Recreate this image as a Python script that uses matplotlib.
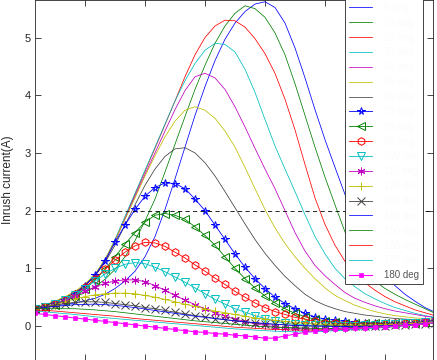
"""Inrush current vs. sample for switching angles 0..180 deg."""
import matplotlib
matplotlib.use("Agg")
import matplotlib.pyplot as plt  # noqa: E402
import numpy as np  # noqa: E402

plt.rcParams["font.family"] = ["Liberation Sans", "DejaVu Sans"]

# sample index grids (fine for the big curves / marker series, coarse for the low lines)
X_FINE = np.arange(5, 206, 5)
X_COARSE = np.arange(5, 206, 10)
ANGLES = list(range(0, 181, 10))

# plain lines, 0..60 deg
I_000 = [0.30, 0.32, 0.35, 0.37, 0.40, 0.44, 0.48, 0.55, 0.65, 0.78, 0.95, 1.20, 1.55, 2.02, 2.55, 3.10, 3.65, 4.15, 4.60, 4.97,
         5.25, 5.45, 5.58, 5.62, 5.52, 5.25, 4.82, 4.30, 3.75, 3.23, 2.75, 2.28, 1.85, 1.47, 1.15, 0.90, 0.70, 0.55, 0.43, 0.32, 0.24]
I_010 = [0.30, 0.34, 0.38, 0.44, 0.50, 0.58, 0.68, 0.81, 0.98, 1.20, 1.48, 1.82, 2.20, 2.67, 3.15, 3.63, 4.10, 4.52, 4.90, 5.20,
         5.42, 5.55, 5.50, 5.35, 5.08, 4.70, 4.20, 3.65, 3.10, 2.58, 2.10, 1.63, 1.25, 0.98, 0.78, 0.65, 0.55, 0.46, 0.38, 0.30, 0.22]
I_020 = [0.31, 0.36, 0.42, 0.49, 0.58, 0.70, 0.87, 1.12, 1.48, 1.87, 2.28, 2.68, 3.08, 3.49, 3.90, 4.32, 4.70, 5.00, 5.20, 5.30,
         5.29, 5.18, 4.98, 4.72, 4.38, 3.93, 3.40, 2.80, 2.22, 1.76, 1.40, 1.12, 0.90, 0.75, 0.62, 0.51, 0.42, 0.35, 0.28, 0.23, 0.18]
I_030 = [0.31, 0.36, 0.42, 0.49, 0.58, 0.71, 0.88, 1.15, 1.50, 1.90, 2.30, 2.70, 3.10, 3.50, 3.90, 4.25, 4.55, 4.78, 4.90, 4.88,
         4.75, 4.45, 4.05, 3.58, 3.12, 2.72, 2.33, 1.93, 1.55, 1.25, 1.00, 0.82, 0.68, 0.56, 0.47, 0.39, 0.32, 0.27, 0.22, 0.18, 0.15]
I_040 = [0.31, 0.36, 0.42, 0.49, 0.58, 0.71, 0.87, 1.13, 1.47, 1.86, 2.25, 2.63, 3.00, 3.38, 3.75, 4.08, 4.32, 4.38, 4.30, 4.10,
         3.80, 3.45, 3.08, 2.72, 2.38, 2.00, 1.62, 1.30, 1.05, 0.87, 0.72, 0.58, 0.48, 0.41, 0.35, 0.30, 0.26, 0.23, 0.20, 0.17, 0.15]
I_050 = [0.32, 0.37, 0.43, 0.51, 0.60, 0.73, 0.90, 1.16, 1.48, 1.85, 2.22, 2.60, 2.95, 3.28, 3.55, 3.74, 3.80, 3.74, 3.60, 3.38,
         3.10, 2.75, 2.38, 2.02, 1.70, 1.43, 1.20, 1.00, 0.82, 0.66, 0.53, 0.44, 0.36, 0.30, 0.25, 0.21, 0.18, 0.16, 0.14, 0.13, 0.12]
I_060 = [0.31, 0.36, 0.42, 0.49, 0.58, 0.70, 0.87, 1.10, 1.40, 1.75, 2.10, 2.44, 2.72, 2.94, 3.07, 3.09, 3.00, 2.83, 2.60, 2.33,
         2.05, 1.77, 1.50, 1.26, 1.05, 0.86, 0.70, 0.55, 0.44, 0.36, 0.30, 0.25, 0.22, 0.19, 0.17, 0.15, 0.13, 0.12, 0.11, 0.10, 0.10]

# marker series, 70..130 deg
I_070 = [0.30, 0.33, 0.38, 0.45, 0.55, 0.70, 0.88, 1.13, 1.45, 1.75, 2.02, 2.25, 2.40, 2.48, 2.47, 2.38, 2.20, 2.00, 1.75, 1.50,
         1.25, 1.02, 0.82, 0.65, 0.50, 0.39, 0.30, 0.22, 0.16, 0.12, 0.10, 0.08, 0.07, 0.06, 0.05, 0.05, 0.05, 0.05, 0.06, 0.07, 0.08]
I_080 = [0.30, 0.33, 0.37, 0.43, 0.52, 0.64, 0.80, 0.98, 1.20, 1.42, 1.62, 1.80, 1.92, 1.95, 1.92, 1.85, 1.72, 1.57, 1.40, 1.20,
         1.00, 0.82, 0.66, 0.52, 0.40, 0.30, 0.22, 0.16, 0.12, 0.09, 0.07, 0.06, 0.05, 0.05, 0.05, 0.05, 0.05, 0.05, 0.06, 0.07, 0.08]
I_090 = [0.30, 0.33, 0.38, 0.45, 0.55, 0.67, 0.82, 0.98, 1.14, 1.28, 1.39, 1.45, 1.44, 1.38, 1.28, 1.18, 1.06, 0.95, 0.83, 0.72,
         0.60, 0.50, 0.40, 0.32, 0.25, 0.20, 0.15, 0.12, 0.08, 0.06, 0.05, 0.04, 0.04, 0.04, 0.04, 0.04, 0.05, 0.05, 0.06, 0.07, 0.08]
I_100 = [0.30, 0.33, 0.38, 0.45, 0.54, 0.65, 0.78, 0.90, 1.00, 1.07, 1.10, 1.08, 1.02, 0.94, 0.85, 0.76, 0.66, 0.56, 0.46, 0.38,
         0.30, 0.24, 0.18, 0.13, 0.08, 0.05, 0.03, 0.02, 0.01, 0.00, 0.00, 0.00, 0.00, 0.01, 0.02, 0.03, 0.04, 0.05, 0.06, 0.07, 0.08]
I_110 = [0.30, 0.33, 0.38, 0.44, 0.52, 0.60, 0.68, 0.74, 0.78, 0.80, 0.80, 0.77, 0.70, 0.62, 0.53, 0.45, 0.37, 0.30, 0.23, 0.17,
         0.12, 0.08, 0.04, 0.01, -0.01, -0.03, -0.04, -0.05, -0.05, -0.05, -0.04, -0.03, -0.02, -0.01, 0.00, 0.02, 0.03, 0.05, 0.06, 0.08, 0.10]
I_120 = [0.30, 0.33, 0.37, 0.42, 0.47, 0.51, 0.54, 0.56, 0.57, 0.57, 0.56, 0.53, 0.50, 0.46, 0.42, 0.38, 0.34, 0.30, 0.26, 0.23,
         0.20, 0.17, 0.14, 0.12, 0.10, 0.08, 0.06, 0.05, 0.04, 0.03, 0.02, 0.02, 0.02, 0.02, 0.02, 0.03, 0.03, 0.04, 0.05, 0.06, 0.07]
I_130 = [0.30, 0.33, 0.36, 0.39, 0.41, 0.42, 0.42, 0.41, 0.39, 0.37, 0.35, 0.32, 0.30, 0.27, 0.24, 0.21, 0.18, 0.16, 0.13, 0.11,
         0.09, 0.07, 0.05, 0.04, 0.03, 0.02, 0.01, 0.00, 0.00, 0.00, 0.00, 0.00, 0.00, 0.00, 0.00, 0.00, 0.01, 0.02, 0.03, 0.04, 0.05]

# plain lines, 140..170 deg (coarse grid)
I_140 = [0.30, 0.34, 0.37, 0.38, 0.36, 0.32, 0.27, 0.22, 0.17, 0.13, 0.09, 0.06, 0.03, 0.01, 0.00, -0.01, -0.01, 0.00, 0.01, 0.03, 0.05]
I_150 = [0.30, 0.30, 0.30, 0.28, 0.25, 0.21, 0.17, 0.13, 0.09, 0.06, 0.03, 0.00, -0.02, -0.03, -0.04, -0.04, -0.03, -0.02, 0.00, 0.02, 0.05]
I_160 = [0.28, 0.26, 0.23, 0.20, 0.17, 0.13, 0.10, 0.07, 0.04, 0.01, -0.02, -0.04, -0.06, -0.07, -0.07, -0.06, -0.05, -0.03, -0.01, 0.02, 0.05]
I_170 = [0.26, 0.23, 0.20, 0.16, 0.13, 0.10, 0.07, 0.04, 0.01, -0.02, -0.05, -0.07, -0.09, -0.10, -0.10, -0.08, -0.06, -0.04, -0.01, 0.02, 0.05]

# 180 deg, squares
I_180 = [0.22, 0.20, 0.18, 0.16, 0.14, 0.12, 0.10, 0.08, 0.06, 0.04, 0.02, 0.00, -0.02, -0.04, -0.06, -0.08, -0.10, -0.11, -0.13, -0.14,
         -0.16, -0.17, -0.19, -0.21, -0.21, -0.17, -0.14, -0.11, -0.09, -0.07, -0.06, -0.05, -0.04, -0.03, -0.02, -0.01, 0.00, 0.01, 0.02, 0.04, 0.06]

XTICKS = [30, 60, 90, 120, 150, 180]
YTICKS = [0, 1, 2, 3, 4, 5]
THRESHOLD = 2.0

# old MATLAB colour order b g r c m y k
CYCLE = [(0, 0, 1), (0, 0.5, 0), (1, 0, 0), (0, 0.75, 0.75),
         (0.75, 0, 0.75), (0.75, 0.75, 0), (0.25, 0.25, 0.25)]
MARKERS = ["*", "<", "h", "v", (6, 2, 0), "+", "x"]


def main():
    series = [I_000, I_010, I_020, I_030, I_040, I_050, I_060,
              I_070, I_080, I_090, I_100, I_110, I_120, I_130,
              I_140, I_150, I_160, I_170, I_180]

    fig = plt.figure(figsize=(4.37, 3.6), dpi=100)
    ax = fig.add_axes([35 / 437, 0.5 / 360, 398 / 437, 359.5 / 360])

    for i, (ang, y) in enumerate(zip(ANGLES, series)):
        c = CYCLE[i % 7]
        lab = f"{ang} deg"
        if i < 7:
            ax.plot(X_FINE, y, color=c, lw=0.55, label=lab)
        elif i < 14:
            ax.plot(X_FINE, y, color=c, lw=0.6, marker=MARKERS[i - 7], ms=5.5,
                    mfc="none", mew=0.7, label=lab)
        elif i < 18:
            ax.plot(X_COARSE, y, color=c, lw=0.55, label=lab)
        else:
            ax.plot(X_FINE, y, color=(1, 0, 1), lw=0.8, marker="s", ms=3,
                    mew=0.5, label=lab)

    ax.axhline(THRESHOLD, color="k", lw=0.6, ls=(0, (5, 4)))

    ax.set_xlim(5, 204)
    ax.set_ylim(-0.58, 5.65)
    ax.set_xticks(XTICKS)
    ax.set_yticks(YTICKS)
    ax.tick_params(direction="in", length=4, width=0.6, labelsize=8,
                   top=True, right=True, colors="#262626", pad=3,
                   labelbottom=False)
    for s in ax.spines.values():
        s.set_linewidth(0.6)
        s.set_color("#262626")
    ax.set_ylabel("Inrush current(A)", fontsize=8.5, color="#262626")
    ax.yaxis.set_label_coords(-0.053, 0.5)

    leg = ax.legend(loc="upper left", bbox_to_anchor=(0.779, 1.003),
                    borderaxespad=0, fontsize=7, labelspacing=0.5,
                    handlelength=2.4, handletextpad=1.2, borderpad=0.4,
                    fancybox=False, framealpha=1, edgecolor="#262626")
    leg.get_frame().set_linewidth(0.6)
    # only the last label is legible in the original
    for t in leg.get_texts()[:-1]:
        t.set_alpha(0.02)
    leg.get_texts()[-1].set_color("#555555")

    fig.savefig("out.png", dpi=100)


if __name__ == "__main__":
    main()
